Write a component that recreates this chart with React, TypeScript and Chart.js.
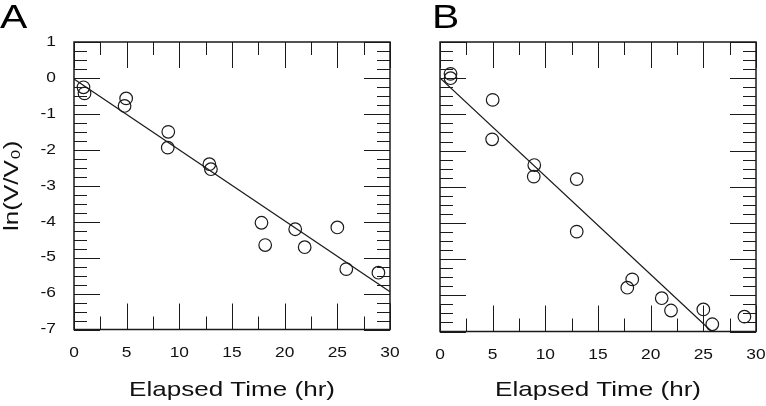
import React, { useEffect, useRef } from "react";
import { Chart, registerables } from "chart.js";

Chart.register(...registerables);

// ---- Data ----
const timeA = [0.9, 1.0, 4.95, 4.8, 8.95, 8.9, 12.85, 13.0, 17.8, 18.15, 21.0, 21.9, 25.0, 25.85, 28.9];
const lnA = [-0.26, -0.43, -0.57, -0.78, -1.5, -1.94, -2.4, -2.54, -4.03, -4.65, -4.21, -4.71, -4.16, -5.32, -5.42];
const fitTimeA = [0, 30];
const fitLnA = [-0.03, -5.95];

const timeB = [1.0, 1.0, 5.0, 4.95, 8.95, 8.9, 12.98, 12.98, 18.25, 17.78, 21.05, 21.93, 25.0, 25.85, 28.9];
const lnB = [0.12, 0.0, -0.6, -1.69, -2.4, -2.72, -2.79, -4.24, -5.56, -5.79, -6.08, -6.42, -6.39, -6.8, -6.59];
const fitTimeB = [0, 25.8];
const fitLnB = [0.01, -7];

const xRange = [0, 30];
const yRange = [-7, 1];
const xStep = 5;
const yStep = 1;
const xMinorStep = 2.5;
const yMinorStep = 0.25;

const xTitle = "Elapsed Time (hr)";
const yTitle = "ln(V/V\u2080)";

const FONT = "'Liberation Sans', Arial, Helvetica, sans-serif";
const INK = "#1a1a1a";
const TEXT_STRETCH = 1.24; // the reference's lettering is horizontally wide

// Widen every text drawn on this chart's canvas horizontally around its anchor.
const stretchTextPlugin = {
  id: "stretchText",
  beforeInit(chart: any) {
    const ctx: any = chart.ctx;
    if (ctx.__stretched) return;
    ctx.__stretched = true;
    const origFill = ctx.fillText;
    const origMeasure = ctx.measureText;
    ctx.fillText = function (text: string, x: number, y: number, maxWidth?: number) {
      this.save();
      this.translate(x, y);
      this.scale(TEXT_STRETCH, 1);
      if (maxWidth === undefined || maxWidth === null) origFill.call(this, text, 0, 0);
      else origFill.call(this, text, 0, 0, maxWidth / TEXT_STRETCH);
      this.restore();
    };
    ctx.measureText = function (text: string) {
      const m = origMeasure.call(this, text);
      return {
        width: m.width * TEXT_STRETCH,
        actualBoundingBoxAscent: m.actualBoundingBoxAscent,
        actualBoundingBoxDescent: m.actualBoundingBoxDescent,
        actualBoundingBoxLeft: m.actualBoundingBoxLeft * TEXT_STRETCH,
        actualBoundingBoxRight: m.actualBoundingBoxRight * TEXT_STRETCH,
      };
    };
  },
};

const framePlugin = {
  id: "frame",
  beforeDatasetsDraw(chart: any) {
    const { ctx, chartArea: a, scales } = chart;
    const x = scales.x;
    const y = scales.y;
    ctx.save();
    ctx.strokeStyle = INK;
    ctx.lineWidth = 1;
    const seg = (x1: number, y1: number, x2: number, y2: number) => {
      ctx.beginPath();
      ctx.moveTo(x1, y1);
      ctx.lineTo(x2, y2);
      ctx.stroke();
    };
    const isMajor = (v: number, step: number) => Math.abs(v / step - Math.round(v / step)) < 1e-6;
    for (let v = x.min; v <= x.max + 1e-9; v += xMinorStep) {
      const px = Math.round(x.getPixelForValue(v)) + 0.5;
      const len = isMajor(v, xStep) ? 26 : 13;
      seg(px, a.bottom, px, a.bottom - len);
      seg(px, a.top, px, a.top + len);
    }
    for (let v = y.min; v <= y.max + 1e-9; v += yMinorStep) {
      const py = Math.round(y.getPixelForValue(v)) + 0.5;
      const len = isMajor(v, yStep) ? 26 : 13;
      seg(a.left, py, a.left + len, py);
      seg(a.right, py, a.right - len, py);
    }
    ctx.lineWidth = 1.5;
    ctx.strokeRect(a.left, a.top, a.right - a.left, a.bottom - a.top);
    ctx.restore();
  },
};

type PanelProps = {
  letter: string;
  times: number[];
  values: number[];
  fitT: number[];
  fitV: number[];
  showY: boolean;
  left: number;
  width: number;
  rightPad: number;
  yWidth: number;
  xHeight: number;
};

function Panel(p: PanelProps) {
  const ref = useRef<HTMLCanvasElement>(null);
  useEffect(() => {
    if (!ref.current) return;
    const chart = new Chart(ref.current, {
      type: "scatter",
      data: {
        datasets: [
          {
            label: "data",
            data: p.times.map((t, i) => ({ x: t, y: p.values[i] })),
            pointRadius: 6.3,
            pointHoverRadius: 6.3,
            borderWidth: 1.2,
            borderColor: INK,
            backgroundColor: "rgba(0,0,0,0)",
            showLine: false,
            clip: false as any,
          },
          {
            label: "fit",
            data: p.fitT.map((t, i) => ({ x: t, y: p.fitV[i] })),
            showLine: true,
            pointRadius: 0,
            borderWidth: 1.2,
            borderColor: INK,
            backgroundColor: INK,
          },
        ],
      },
      options: {
        responsive: false,
        animation: false,
        layout: { autoPadding: false, padding: { left: 0, right: p.rightPad, top: 0, bottom: 0 } },
        plugins: {
          legend: { display: false },
          tooltip: { enabled: false },
          title: {
            display: true,
            text: p.letter,
            align: "start",
            color: "#000",
            font: { size: 33, weight: "normal", family: FONT, lineHeight: 1 },
            padding: { top: 2, bottom: 7 },
          },
        },
        scales: {
          x: {
            type: "linear",
            min: xRange[0],
            max: xRange[1],
            grid: { display: false, drawTicks: false },
            border: { display: false },
            ticks: {
              stepSize: xStep,
              padding: 15,
              color: "#111",
              font: { size: 14, family: FONT },
              maxRotation: 0,
            },
            title: {
              display: true,
              text: xTitle,
              color: "#111",
              font: { size: 21, family: FONT, lineHeight: 1.2 },
              padding: { top: 0, bottom: 3 },
            },
            afterFit: (s: any) => {
              s.height = p.xHeight;
              s.paddingLeft = 0;
              s.paddingRight = 0;
            },
          },
          y: {
            type: "linear",
            min: yRange[0],
            max: yRange[1],
            grid: { display: false, drawTicks: false },
            border: { display: false },
            ticks: {
              display: p.showY,
              stepSize: yStep,
              padding: 18,
              color: "#111",
              font: { size: 14, family: FONT },
            },
            title: {
              display: p.showY,
              text: yTitle,
              color: "#111",
              font: { size: 21, family: FONT, lineHeight: 1.2 },
              padding: 0,
            },
            afterFit: (s: any) => {
              s.width = p.yWidth;
              s.paddingTop = 0;
              s.paddingBottom = 0;
            },
          },
        },
      } as any,
      plugins: [stretchTextPlugin, framePlugin],
    });
    return () => chart.destroy();
  }, []);
  return (
    <canvas
      ref={ref}
      width={p.width}
      height={406}
      style={{ position: "absolute", left: p.left, top: 0, width: p.width, height: 406 }}
    />
  );
}

export default function App() {
  return (
    <div style={{ position: "absolute", left: 0, top: 0, width: 766, height: 406, background: "#fff" }}>
      <Panel letter="A" times={timeA} values={lnA} fitT={fitTimeA} fitV={fitLnA} showY={true}
        left={0} width={400} rightPad={10} yWidth={74} xHeight={76.5} />
      <Panel letter="B" times={timeB} values={lnB} fitT={fitTimeB} fitV={fitLnB} showY={false}
        left={432} width={334} rightPad={10} yWidth={8} xHeight={74.5} />
    </div>
  );
}
